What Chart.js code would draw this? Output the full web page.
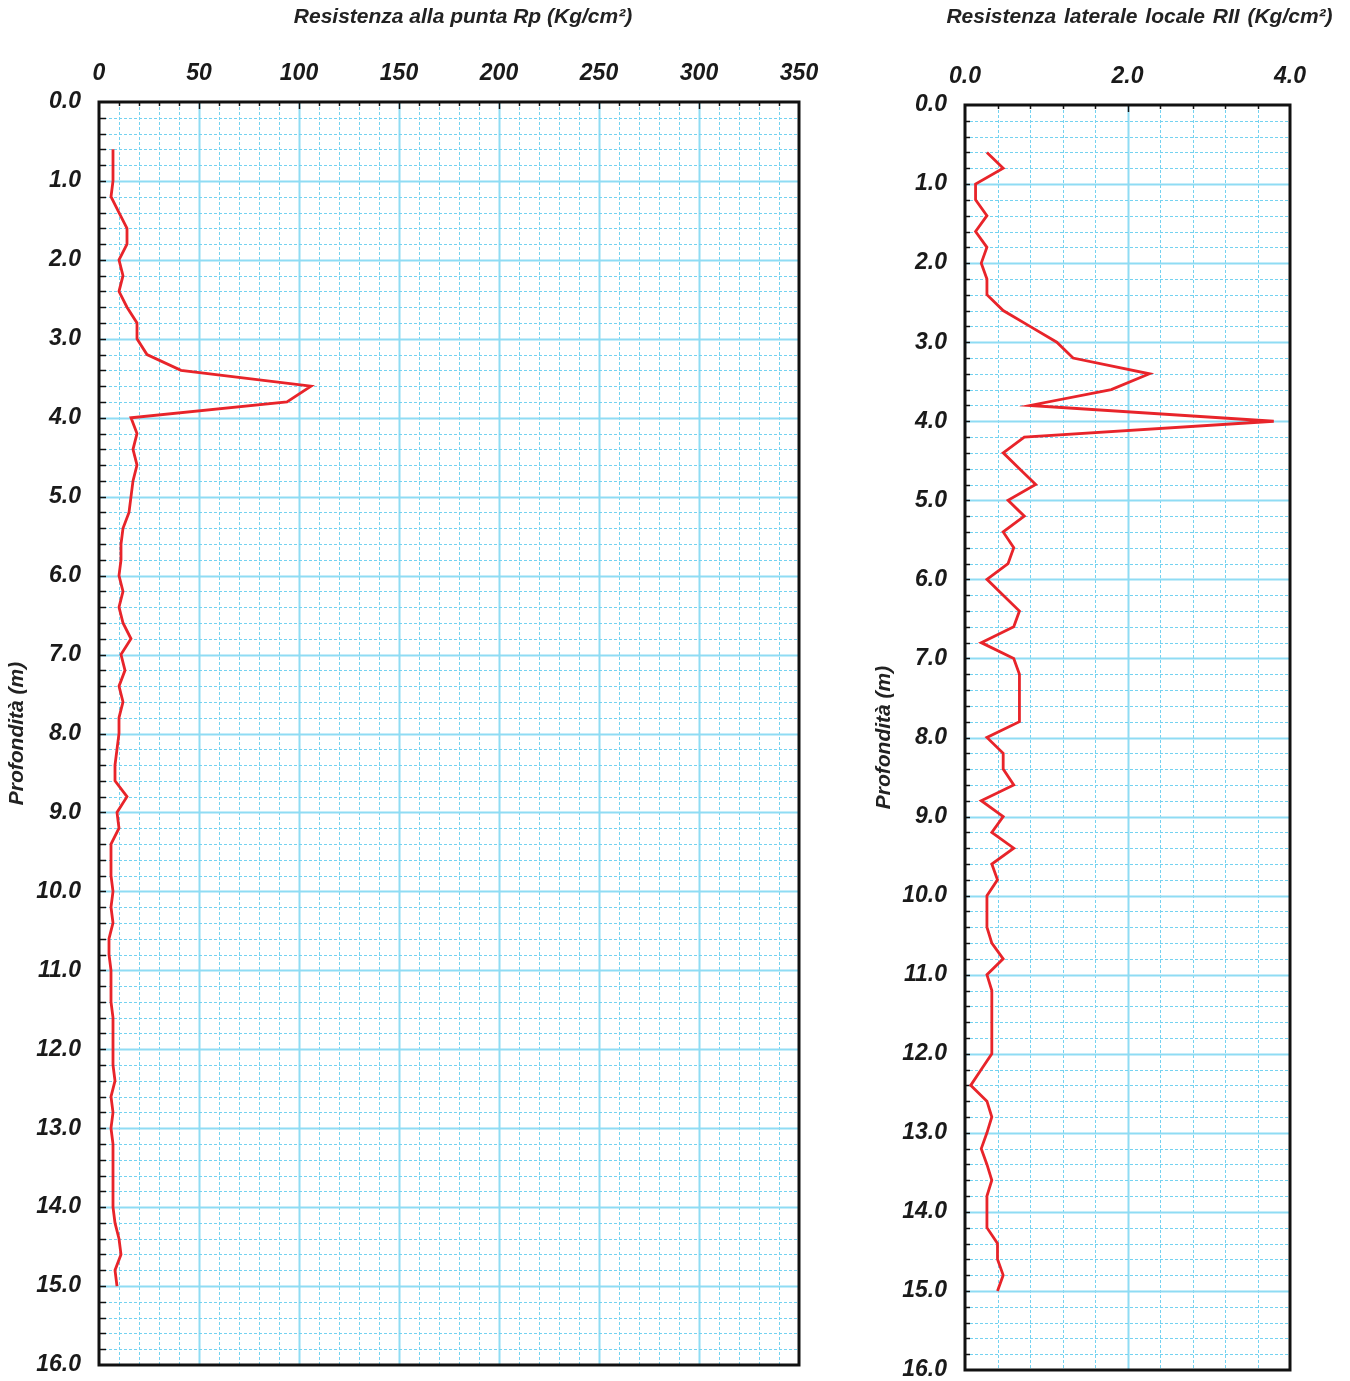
<!DOCTYPE html>
<html><head><meta charset="utf-8">
<script src="https://cdn.jsdelivr.net/npm/chart.js@4.4.0/dist/chart.umd.min.js"></script>
<style>
html,body{margin:0;padding:0;background:#fff;overflow:hidden}
#c1{position:absolute;left:0;top:0}
#c2{position:absolute;left:850px;top:0}
</style></head><body>
<canvas id="c1" width="830" height="1381" style="width:830px;height:1381px"></canvas>
<canvas id="c2" width="500" height="1381" style="width:500px;height:1381px"></canvas>
<script>
// Depth of each reading (m)
const depths = [0.6,0.8,1.0,1.2,1.4,1.6,1.8,2.0,2.2,2.4,2.6,2.8,3.0,3.2,3.4,3.6,3.8,4.0,4.2,4.4,4.6,4.8,
  5.0,5.2,5.4,5.6,5.8,6.0,6.2,6.4,6.6,6.8,7.0,7.2,7.4,7.6,7.8,8.0,8.2,8.4,8.6,8.8,9.0,9.2,9.4,9.6,9.8,
  10.0,10.2,10.4,10.6,10.8,11.0,11.2,11.4,11.6,11.8,12.0,12.2,12.4,12.6,12.8,13.0,13.2,13.4,13.6,13.8,
  14.0,14.2,14.4,14.6,14.8,15.0];
// Resistenza alla punta Rp (Kg/cm²)
const rpValues = [7,7,7,6,10,14,14,10,12,10,14,19,19,24,41,106,94,16,19,17,19,17,
  16,15,12,11,11,10,12,10,12,16,11,13,10,12,10,10,9,8,8,14,9,10,6,6,6,
  7,6,7,5,5,6,6,6,7,7,7,7,8,6,7,6,7,7,7,7,
  7,8,10,11,8,9];
// Resistenza laterale locale RII (Kg/cm²)
const rlValues = [0.27,0.47,0.13,0.13,0.27,0.13,0.27,0.20,0.27,0.27,0.47,0.80,1.13,1.33,2.27,1.80,0.80,3.80,0.73,0.47,0.67,0.87,
  0.53,0.73,0.47,0.60,0.53,0.27,0.47,0.67,0.60,0.20,0.60,0.67,0.67,0.67,0.67,0.27,0.47,0.47,0.60,0.20,0.47,0.33,0.60,0.33,0.40,
  0.27,0.27,0.27,0.33,0.47,0.27,0.33,0.33,0.33,0.33,0.33,0.20,0.07,0.27,0.33,0.27,0.20,0.27,0.33,0.27,
  0.27,0.27,0.40,0.40,0.47,0.40];

const rpTitle = 'Resistenza alla punta Rp (Kg/cm²)';
const rlTitle = 'Resistenza laterale locale RII (Kg/cm²)';
const depthTitle = 'Profondità (m)';

const FONT = "'Liberation Sans', Arial, sans-serif";
const RED = '#e8242a';

const paper = {
  id: 'paper',
  beforeDatasetsDraw(chart, args, o) {
    const {ctx, chartArea: a, scales: {x, y}} = chart;
    ctx.save();
    const nx = Math.round((x.max - x.min) / o.xMinor);
    const xm = Math.round(o.xMajor / o.xMinor);
    const ny = Math.round((y.max - y.min) / o.yMinor);
    const ym = Math.round(o.yMajor / o.yMinor);
    for (let i = 1; i < nx; i++) {
      const px = Math.round(x.getPixelForValue(x.min + i * o.xMinor)) + 0.5;
      const major = i % xm === 0;
      ctx.beginPath();
      ctx.setLineDash(major ? [] : [3, 2]);
      ctx.strokeStyle = major ? '#8fdcf4' : '#74d2f0';
      ctx.lineWidth = major ? 2 : 1;
      ctx.moveTo(px, a.top); ctx.lineTo(px, a.bottom); ctx.stroke();
    }
    for (let j = 1; j < ny; j++) {
      const py = Math.round(y.getPixelForValue(y.min + j * o.yMinor)) + 0.5;
      const major = j % ym === 0;
      ctx.beginPath();
      ctx.setLineDash(major ? [] : [3, 2]);
      ctx.strokeStyle = major ? '#8fdcf4' : '#74d2f0';
      ctx.lineWidth = major ? 2 : 1;
      ctx.moveTo(a.left, py); ctx.lineTo(a.right, py); ctx.stroke();
    }
    ctx.setLineDash([]);
    ctx.strokeStyle = '#111';
    ctx.lineWidth = 1.5;
    for (let j = 1; j < ny; j++) {
      const py = Math.round(y.getPixelForValue(y.min + j * o.yMinor)) + 0.5;
      ctx.beginPath(); ctx.moveTo(a.left, py); ctx.lineTo(a.left + o.yTick, py); ctx.stroke();
    }
    for (let i = 1; i < nx; i++) {
      const px = Math.round(x.getPixelForValue(x.min + i * o.xMinor)) + 0.5;
      const len = (i % xm === 0) ? 7 : 4;
      ctx.beginPath(); ctx.moveTo(px, a.top); ctx.lineTo(px, a.top + len); ctx.stroke();
    }
    ctx.restore();
  },
  afterDraw(chart, args, o) {
    const {ctx, chartArea: a} = chart;
    ctx.save();
    ctx.strokeStyle = '#111';
    ctx.lineWidth = 3;
    ctx.strokeRect(a.left, a.top, a.right - a.left, a.bottom - a.top);
    ctx.fillStyle = '#222';
    ctx.font = 'italic bold ' + o.titleSize + 'px ' + FONT;
    if ('wordSpacing' in ctx) ctx.wordSpacing = o.wordSpacing + 'px';
    ctx.textAlign = 'center';
    ctx.textBaseline = 'middle';
    ctx.fillText(o.title, (a.left + a.right) / 2 + o.titleDx, o.titleY);
    ctx.restore();
  }
};

function makeChart(id, values, cfg) {
  const tickFont = {family: FONT, size: 23, style: 'italic', weight: 'bold'};
  return new Chart(document.getElementById(id), {
    type: 'line',
    data: {
      datasets: [{
        data: depths.map((d, i) => ({x: values[i], y: d})),
        borderColor: RED,
        borderWidth: 2.8,
        pointRadius: 0,
        tension: 0,
        fill: false
      }]
    },
    options: {
      responsive: false,
      devicePixelRatio: 1,
      animation: false,
      layout: {padding: cfg.padding},
      plugins: {
        legend: {display: false},
        tooltip: {enabled: false},
        paper: cfg.paper
      },
      scales: {
        x: {
          type: 'linear',
          position: 'top',
          min: cfg.xMin, max: cfg.xMax,
          grid: {display: false, drawTicks: false},
          border: {display: false},
          ticks: {
            stepSize: cfg.xStep,
            autoSkip: false,
            maxRotation: 0,
            padding: 15,
            color: '#1a1a1a',
            font: tickFont,
            callback: cfg.xFormat
          },
          afterFit: s => {
            s.height = cfg.xHeight;
            s.paddingLeft = 0; s.paddingRight = 0; s.paddingTop = 0; s.paddingBottom = 0;
          }
        },
        y: {
          type: 'linear',
          reverse: true,
          min: 0, max: 16,
          grid: {display: false, drawTicks: false},
          border: {display: false},
          ticks: {
            stepSize: 1,
            autoSkip: false,
            padding: 18,
            color: '#1a1a1a',
            font: tickFont,
            callback: v => Number(v).toFixed(1)
          },
          title: {
            display: true,
            text: depthTitle,
            color: '#222',
            font: {family: FONT, size: 21, style: 'italic', weight: 'bold'},
            padding: {top: cfg.yTitlePad, bottom: 0}
          },
          afterFit: s => {
            s.width = cfg.yWidth;
            s.paddingLeft = 0; s.paddingRight = 0; s.paddingTop = 0; s.paddingBottom = 0;
          }
        }
      }
    },
    plugins: [paper]
  });
}

makeChart('c1', rpValues, {
  padding: {left: 0, top: 0, right: 31, bottom: 16},
  xMin: 0, xMax: 350, xStep: 50,
  xFormat: v => String(v),
  xHeight: 102, yWidth: 99, yTitlePad: 5,
  paper: {xMinor: 10, xMajor: 50, yMinor: 0.2, yMajor: 1, yTick: 7,
          title: rpTitle, titleSize: 21, wordSpacing: 0, titleDx: 14, titleY: 17}
});

makeChart('c2', rlValues, {
  padding: {left: 0, top: 0, right: 60, bottom: 11},
  xMin: 0, xMax: 4, xStep: 2,
  xFormat: v => Number(v).toFixed(1),
  xHeight: 105, yWidth: 115, yTitlePad: 22,
  paper: {xMinor: 0.4, xMajor: 2, yMinor: 0.2, yMajor: 1, yTick: 5,
          title: rlTitle, titleSize: 21, wordSpacing: 2, titleDx: 12, titleY: 17}
});
</script>
</body></html>
